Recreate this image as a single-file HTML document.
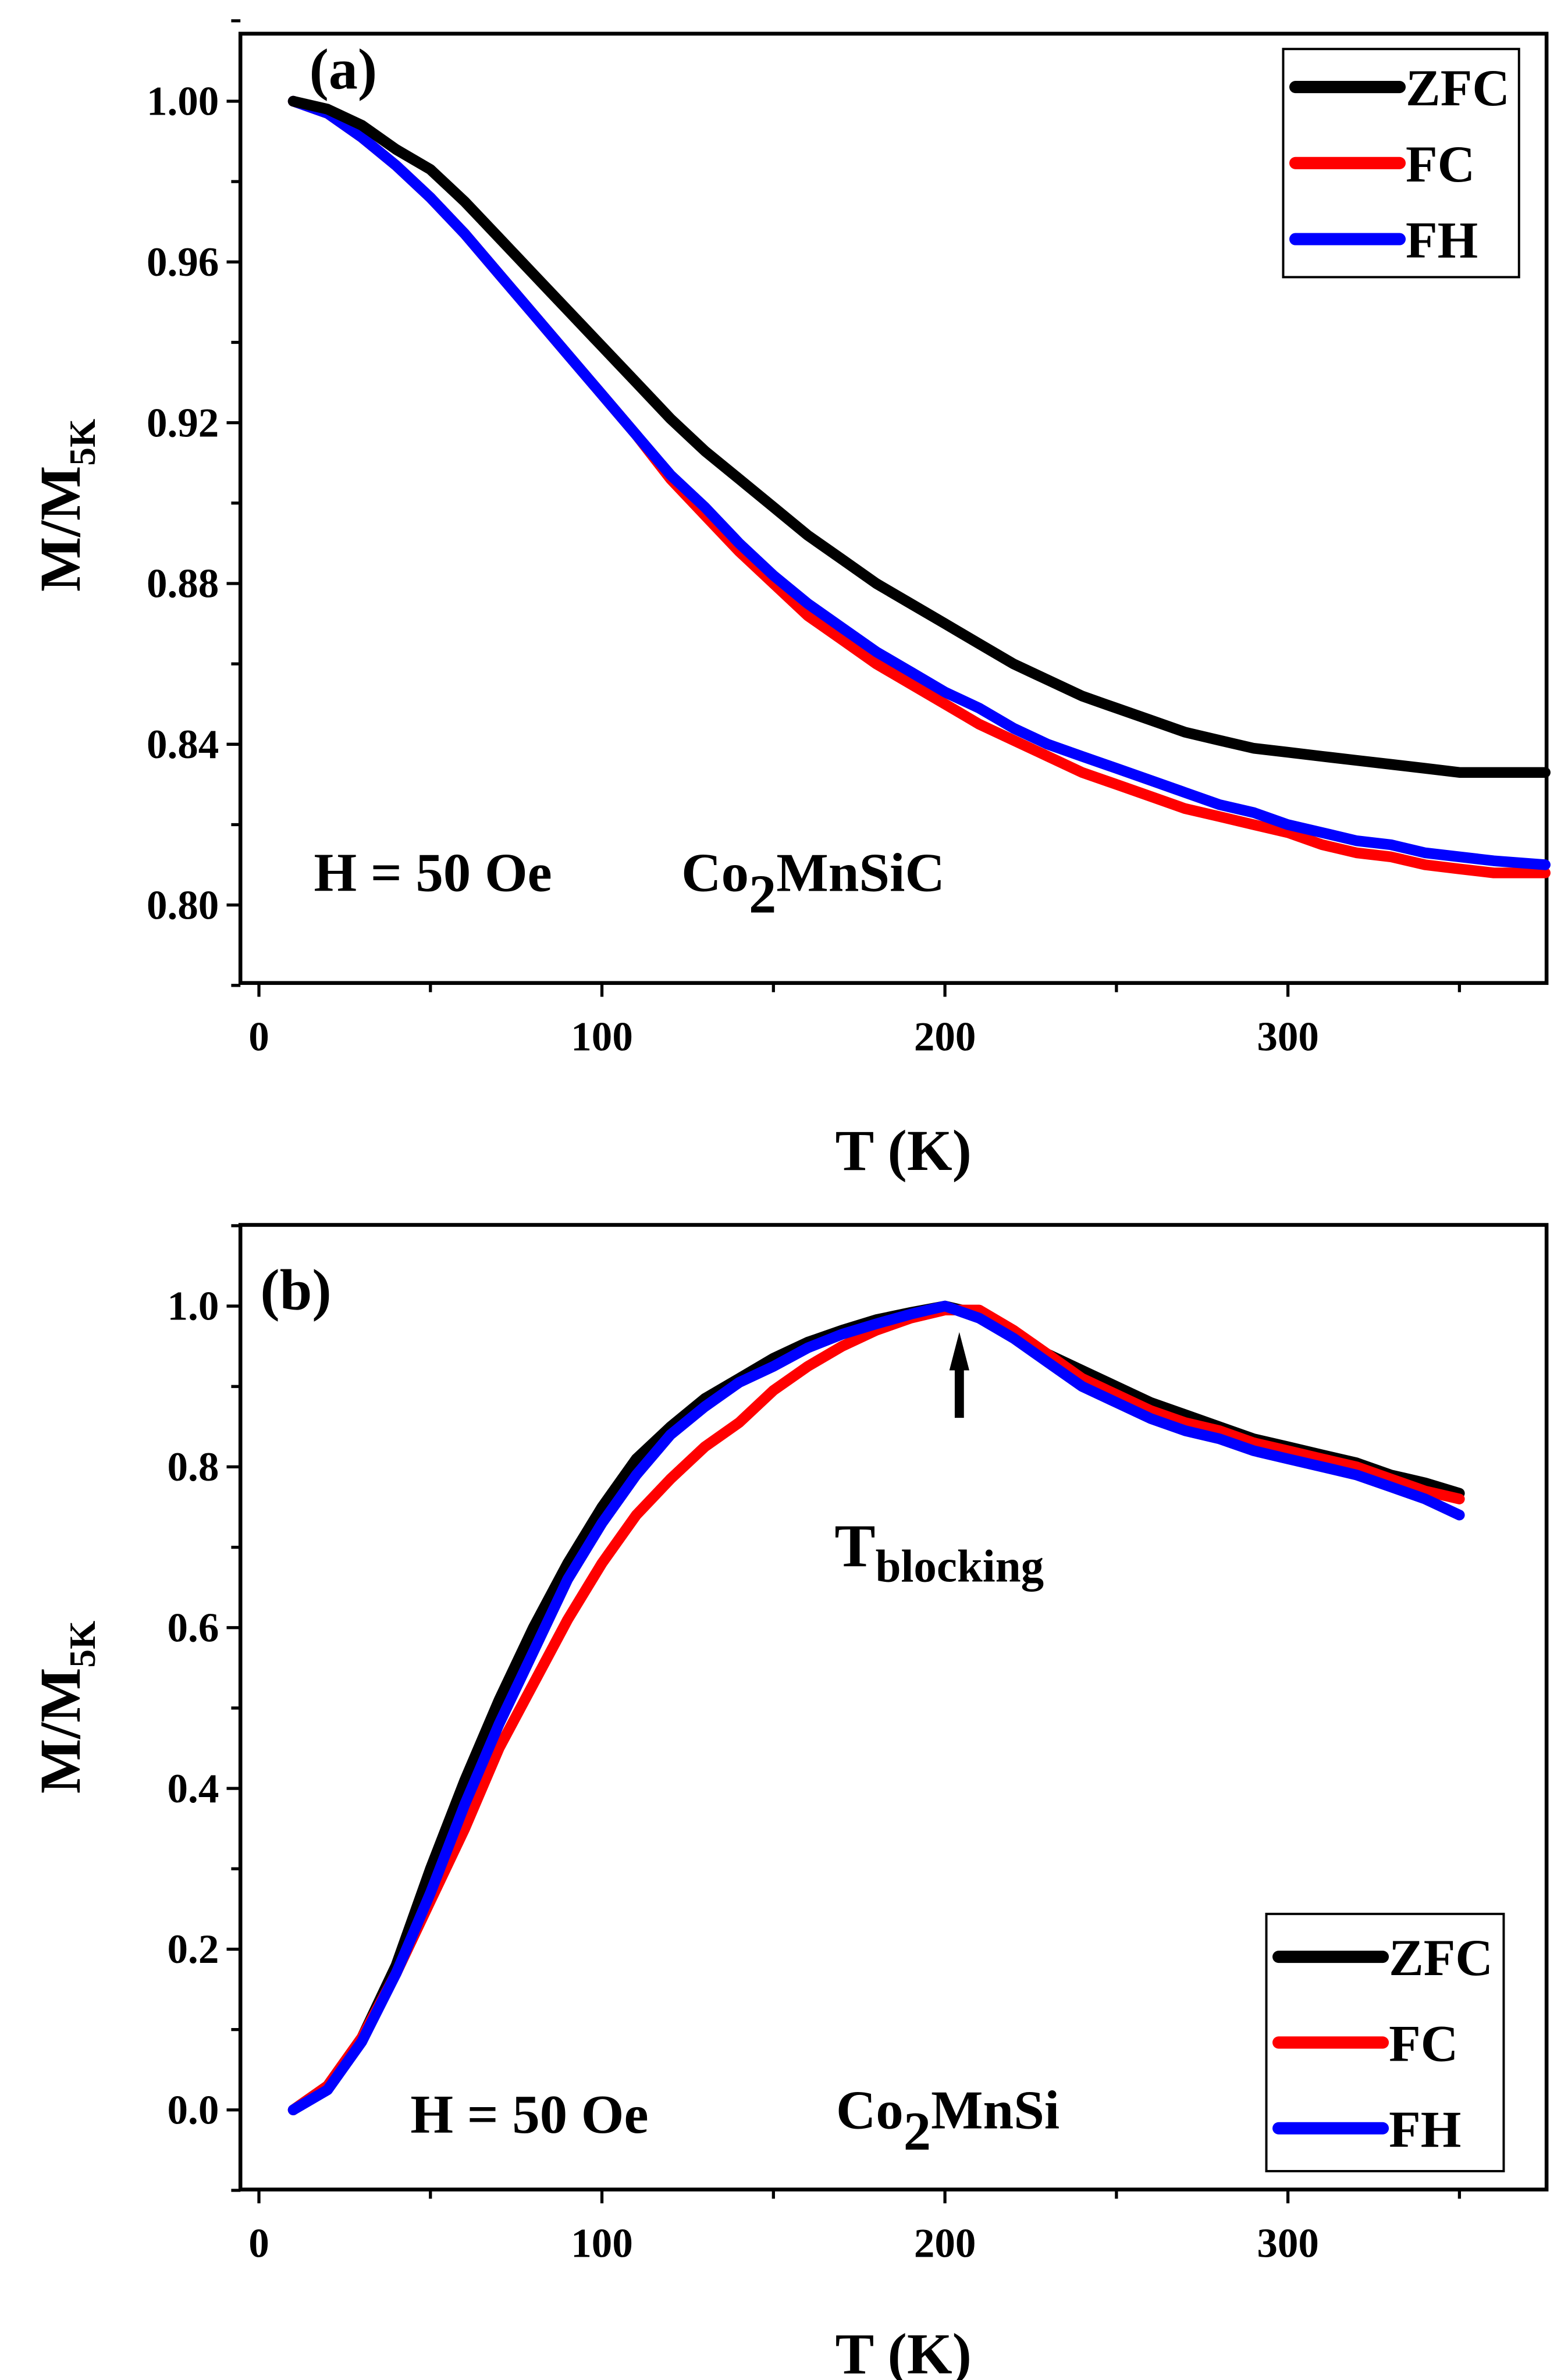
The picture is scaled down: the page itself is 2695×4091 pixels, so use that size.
<!DOCTYPE html>
<html><head><meta charset="utf-8"><style>html,body{margin:0;padding:0;background:#fff}svg{display:block}text{font-family:"Liberation Serif",serif;font-weight:bold;fill:#000}</style></head>
<body>
<svg id="chart" width="2695" height="4091" viewBox="0 0 1024 1554.4" preserveAspectRatio="none" xmlns="http://www.w3.org/2000/svg">
<g id="pa"></g>
<g id="pb"></g>
</svg>
<script>
const tempA = [10,20,30,40,50,60,70,80,90,100,110,120,130,140,150,160,170,180,190,200,210,220,230,240,250,260,270,280,290,300,310,320,330,340,350,360,375];
const zfcA = [1.0,0.998,0.994,0.988,0.983,0.975,0.966,0.957,0.948,0.939,0.930,0.921,0.913,0.906,0.899,0.892,0.886,0.880,0.875,0.870,0.865,0.860,0.856,0.852,0.849,0.846,0.843,0.841,0.839,0.838,0.837,0.836,0.835,0.834,0.833,0.833,0.833];
const fcA = [1.0,0.997,0.991,0.984,0.976,0.967,0.957,0.947,0.937,0.927,0.917,0.906,0.897,0.888,0.880,0.872,0.866,0.860,0.855,0.850,0.845,0.841,0.837,0.833,0.830,0.827,0.824,0.822,0.820,0.818,0.815,0.813,0.812,0.810,0.809,0.808,0.808];
const fhA = [1.0,0.997,0.991,0.984,0.976,0.967,0.957,0.947,0.937,0.927,0.917,0.907,0.899,0.890,0.882,0.875,0.869,0.863,0.858,0.853,0.849,0.844,0.840,0.837,0.834,0.831,0.828,0.825,0.823,0.820,0.818,0.816,0.815,0.813,0.812,0.811,0.810];
const tempB = [10,20,30,40,50,60,70,80,90,100,110,120,130,140,150,160,170,180,190,200,210,220,230,240,250,260,270,280,290,300,310,320,330,340,350];
const zfcB = [0,0.03,0.09,0.18,0.30,0.41,0.51,0.60,0.68,0.75,0.81,0.85,0.885,0.91,0.935,0.955,0.97,0.983,0.992,1.0,0.99,0.965,0.94,0.92,0.90,0.88,0.865,0.85,0.835,0.825,0.815,0.805,0.79,0.78,0.767];
const fcB = [0,0.03,0.09,0.17,0.26,0.35,0.45,0.53,0.61,0.68,0.74,0.785,0.825,0.855,0.895,0.925,0.95,0.97,0.985,0.995,0.995,0.97,0.94,0.91,0.89,0.87,0.855,0.845,0.83,0.82,0.81,0.80,0.785,0.77,0.76];
const fhB = [0,0.025,0.085,0.17,0.27,0.38,0.48,0.57,0.66,0.73,0.79,0.84,0.875,0.905,0.925,0.948,0.965,0.978,0.99,1.0,0.985,0.96,0.93,0.90,0.88,0.86,0.845,0.835,0.82,0.81,0.80,0.79,0.775,0.76,0.74];
const xTicks = [0,100,200,300];
const yTicksA = ["0.80","0.84","0.88","0.92","0.96","1.00"];
const yTicksB = ["0.0","0.2","0.4","0.6","0.8","1.0"];
const NS="http://www.w3.org/2000/svg";
function mk(p,tag,at,txt){const e=document.createElementNS(NS,tag);for(const k in at)e.setAttribute(k,at[k]);if(txt!==undefined)e.textContent=txt;p.appendChild(e);return e;}
function panel(g,L,R,T,B,x0,x1,y0,y1,yt,ydec,yminor){
  const X=v=>L+(v-x0)/(x1-x0)*(R-L), Y=v=>B-(v-y0)/(y1-y0)*(B-T);
  const fr=mk(g,'rect',{x:L,y:T,width:R-L,height:B-T,fill:'none',stroke:'#000','stroke-width':2.5});
  
  
  for(let v=0;v<=350;v+=50){const x=X(v);const t=mk(g,'line',{x1:x,x2:x,y1:B,y2:B+(v%100===0?9:6),stroke:'#000','stroke-width':2});
    }
  xTicks.forEach(v=>{const t=mk(g,'text',{x:X(v),y:B+44,'font-size':27,'text-anchor':'middle'},String(v));
    });
  yt.forEach(s=>{const v=parseFloat(s),y=Y(v);const t=mk(g,'line',{x1:L,x2:L-9,y1:y,y2:y,stroke:'#000','stroke-width':2});
    
    const m=mk(g,'line',{x1:L,x2:L-6,y1:Y(v+yminor),y2:Y(v+yminor),stroke:'#000','stroke-width':2});
    
    const l=mk(g,'text',{x:L-14,y:y+9,'font-size':27,'text-anchor':'end'},s);
    });
  const m0=mk(g,'line',{x1:L,x2:L-6,y1:Y(parseFloat(yt[0])-yminor),y2:Y(parseFloat(yt[0])-yminor),stroke:'#000','stroke-width':2});
  
  return {X,Y};
}
function series(g,ax,xs,ys,col,name){
  const d=xs.map((t,i)=>(i?'L':'M')+ax.X(t).toFixed(1)+' '+ax.Y(ys[i]).toFixed(1)).join(' ');
  const p=mk(g,'path',{d:d,fill:'none',stroke:col,'stroke-width':7,'stroke-linejoin':'round','stroke-linecap':'round'});
  
  
}
function legend(g,x,y,w,h,rows){
  const r=mk(g,'rect',{x:x,y:y,width:w,height:h,fill:'#fff',stroke:'#000','stroke-width':1.5});
  
  const step=h/3;
  rows.forEach((rw,i)=>{const cy=y+step*(i+0.5);
    const l=mk(g,'line',{x1:x+8,x2:x+76,y1:cy,y2:cy,stroke:rw[1],'stroke-width':8,'stroke-linecap':'round'});
    
    const t=mk(g,'text',{x:x+80,y:cy+12,'font-size':34},rw[0]);
    });
}
const ga=document.getElementById('pa'), gb=document.getElementById('pb');
const A=panel(ga,157,1010,22,642,-5.4,375.4,0.7806,1.0168,yTicksA,0,0.02);
series(ga,A,tempA,fcA,'#ff0000','fc-line');
series(ga,A,tempA,fhA,'#0000ff','fh-line');
series(ga,A,tempA,zfcA,'#000000','zfc-line');
legend(ga,838,32,154,149,[['ZFC','#000'],['FC','#f00'],['FH','#00f']]);
const Bx=panel(gb,157,1010,800,1430,-5.4,375.4,-0.099,1.101,yTicksB,0,0.1);
series(gb,Bx,tempB,zfcB,'#000000','zfc-line');
series(gb,Bx,tempB,fcB,'#ff0000','fc-line');
series(gb,Bx,tempB,fhB,'#0000ff','fh-line');
legend(gb,827,1250,155,168,[['ZFC','#000'],['FC','#f00'],['FH','#00f']]);
</script>
<svg style="position:absolute;left:0;top:0" width="2695" height="4091" viewBox="0 0 1024 1554.4" preserveAspectRatio="none" xmlns="http://www.w3.org/2000/svg">
<text x="202" y="58" font-size="38">(a)</text>
<text x="170" y="855" font-size="38">(b)</text>
<text x="205" y="582" font-size="36">H = 50 Oe</text>
<text x="445" y="582" font-size="36">Co<tspan dy="14">2</tspan><tspan dy="-14">MnSiC</tspan></text>
<text x="268" y="1393" font-size="36">H = 50 Oe</text>
<text x="546" y="1390" font-size="36">Co<tspan dy="14">2</tspan><tspan dy="-14">MnSi</tspan></text>
<text x="590" y="764" font-size="38" text-anchor="middle">T (K)</text>
<text x="590" y="1550" font-size="38" text-anchor="middle">T (K)</text>
<text transform="translate(52,330) rotate(-90)" font-size="38" text-anchor="middle">M/M<tspan font-size="24" dy="10">5K</tspan></text>
<text transform="translate(52,1115) rotate(-90)" font-size="38" text-anchor="middle">M/M<tspan font-size="24" dy="10">5K</tspan></text>
<g>
<rect x="623.5" y="893" width="6" height="33" fill="#000"/>
<polygon points="626.5,870 620,895 633,895" fill="#000"/>
</g>
<text x="545" y="1023" font-size="40">T<tspan font-size="30" dy="10">blocking</tspan></text>
</svg>
</body></html>
